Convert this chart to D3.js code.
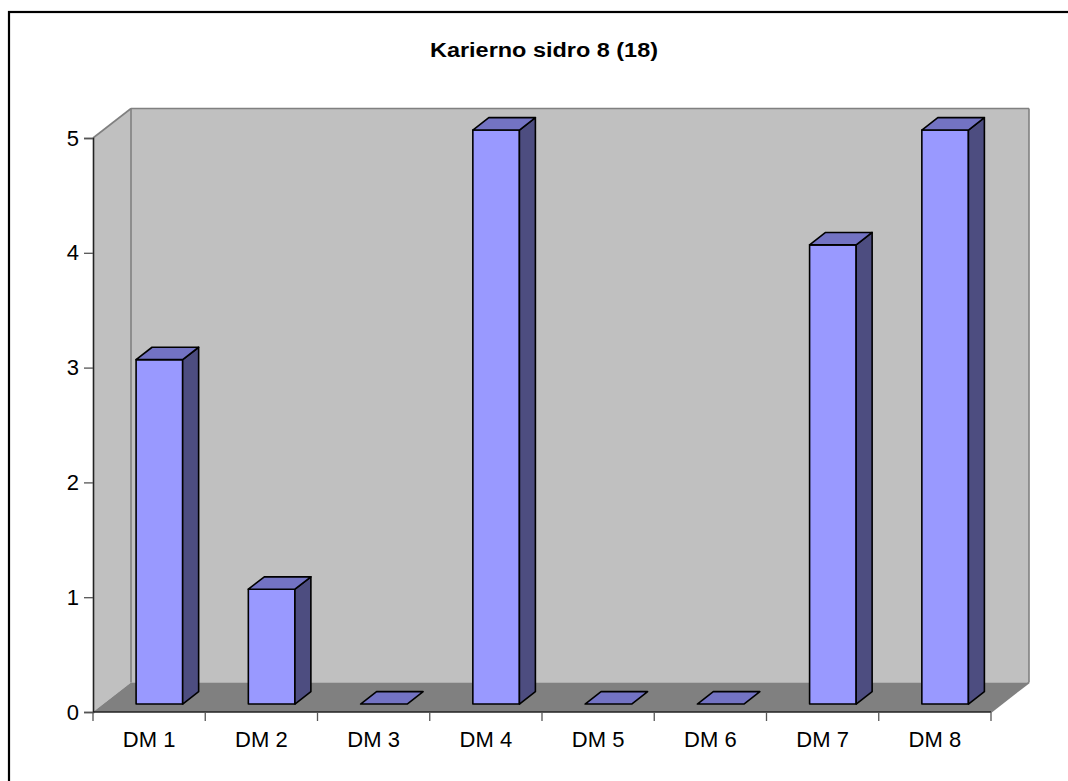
<!DOCTYPE html>
<html>
<head>
<meta charset="utf-8">
<script src="https://cdn.jsdelivr.net/npm/d3@7"></script>
<style>
  html, body { margin: 0; padding: 0; background: #fff; }
  svg { display: block; font-family: Arial, "Liberation Sans", sans-serif; }
</style>
</head>
<body>
<svg id="chart" width="1068" height="781"></svg>
<script>
// Chart data
const categories = ["DM 1", "DM 2", "DM 3", "DM 4", "DM 5", "DM 6", "DM 7", "DM 8"];
const values = [3, 1, 0, 5, 0, 0, 4, 5];
const yTicks = [0, 1, 2, 3, 4, 5];
const title = "Karierno sidro 8 (18)";

const svg = d3.select("#chart");

// Front plane of the plot box and the depth offset of the 3D box
const plotLeft = 93, plotRight = 991, plotBottom = 712, plotTop = 138;
const depth = { dx: 38, dy: -29.5 };
// Bars occupy this slice of the box depth
const f0 = 0.27, f1 = 0.69;

const x = d3.scaleBand().domain(categories).range([plotLeft, plotRight]).padding(0);
const y = d3.scaleLinear().domain([0, 5]).range([plotBottom, plotTop]);
const barW = x.step() * 0.415;

// Project a (x, y) point on the front plane back by depth fraction f
const P = (px, py, f) => [px + depth.dx * f, py + depth.dy * f];
const poly = pts => pts.map(p => p.join(",")).join(" ");

// Outer frame
svg.append("rect")
  .attr("x", 9).attr("y", 12).attr("width", 1200).attr("height", 900)
  .attr("fill", "none").attr("stroke", "#000").attr("stroke-width", 2.2);

// Title
svg.append("text")
  .attr("x", 544).attr("y", 57)
  .attr("text-anchor", "middle")
  .attr("font-size", 20).attr("font-weight", "bold")
  .attr("textLength", 228).attr("lengthAdjust", "spacingAndGlyphs")
  .text(title);

const wallFill = "#C0C0C0", floorFill = "#808080", edge = "#808080";
const y0 = y(0), yMax = y(5);

// Side wall (left)
svg.append("polygon")
  .attr("points", poly([[plotLeft, yMax], P(plotLeft, yMax, 1), P(plotLeft, y0, 1), [plotLeft, y0]]))
  .attr("fill", wallFill);
// Back wall
svg.append("polygon")
  .attr("points", poly([P(plotLeft, yMax, 1), P(plotRight, yMax, 1), P(plotRight, y0, 1), P(plotLeft, y0, 1)]))
  .attr("fill", wallFill);
// Floor
svg.append("polygon")
  .attr("points", poly([[plotLeft, y0], [plotRight, y0], P(plotRight, y0, 1), P(plotLeft, y0, 1)]))
  .attr("fill", floorFill);

// Box edges
const edges = [
  [[plotLeft, yMax], P(plotLeft, yMax, 1)],
  [P(plotLeft, yMax, 1), P(plotRight, yMax, 1)],
  [P(plotLeft, yMax, 1), P(plotLeft, y0, 1)],
  [P(plotRight, yMax, 1), P(plotRight, y0, 1)],
  [[plotRight, y0], P(plotRight, y0, 1)]
];
svg.append("g").selectAll("line").data(edges).join("line")
  .attr("x1", d => d[0][0]).attr("y1", d => d[0][1])
  .attr("x2", d => d[1][0]).attr("y2", d => d[1][1])
  .attr("stroke", edge).attr("stroke-width", 1.6);

// Bars
const frontFill = "#9999FF", topFill = "#7373C3", sideFill = "#4D4D80";
const bars = svg.append("g").selectAll("g").data(categories.map((c, i) => ({ c, v: values[i] }))).join("g");

bars.each(function(d) {
  const g = d3.select(this);
  const cx = x(d.c) + x.bandwidth() / 2;
  const xl = cx - barW / 2, xr = cx + barW / 2;
  const yb = y(0), yt = y(d.v);
  const face = (pts, fill) => g.append("polygon")
    .attr("points", poly(pts)).attr("fill", fill)
    .attr("stroke", "#000").attr("stroke-width", 1.6).attr("stroke-linejoin", "round");
  if (d.v > 0) {
    face([P(xl, yt, f0), P(xr, yt, f0), P(xr, yb, f0), P(xl, yb, f0)], frontFill);
    face([P(xr, yt, f0), P(xr, yt, f1), P(xr, yb, f1), P(xr, yb, f0)], sideFill);
  }
  face([P(xl, yt, f0), P(xr, yt, f0), P(xr, yt, f1), P(xl, yt, f1)], topFill);
});

// Value axis
const yAxis = svg.append("g")
  .attr("transform", `translate(${plotLeft},0)`)
  .call(d3.axisLeft(y).tickValues(yTicks).tickFormat(d3.format("d")).tickSize(9).tickPadding(5));
yAxis.select(".domain").attr("stroke", "#222").attr("stroke-width", 1.6);
yAxis.selectAll(".tick line").attr("stroke", "#555").attr("stroke-width", 1.3);
yAxis.selectAll(".tick text")
  .attr("font-size", 22).attr("fill", "#000")
  .attr("font-family", "Arial, 'Liberation Sans', sans-serif");

// Category axis: baseline, boundary ticks and labels
svg.append("line")
  .attr("x1", plotLeft).attr("x2", plotRight).attr("y1", y0).attr("y2", y0)
  .attr("stroke", "#222").attr("stroke-width", 1.6);
const bounds = categories.map(c => x(c)).concat([plotRight]);
svg.append("g").selectAll("line").data(bounds).join("line")
  .attr("x1", d => d).attr("x2", d => d)
  .attr("y1", y0).attr("y2", y0 + 9)
  .attr("stroke", "#555").attr("stroke-width", 1.3);
svg.append("g").selectAll("text").data(categories).join("text")
  .attr("x", d => x(d) + x.bandwidth() / 2)
  .attr("y", 747)
  .attr("text-anchor", "middle")
  .attr("font-size", 22)
  .text(d => d);
</script>
</body>
</html>
